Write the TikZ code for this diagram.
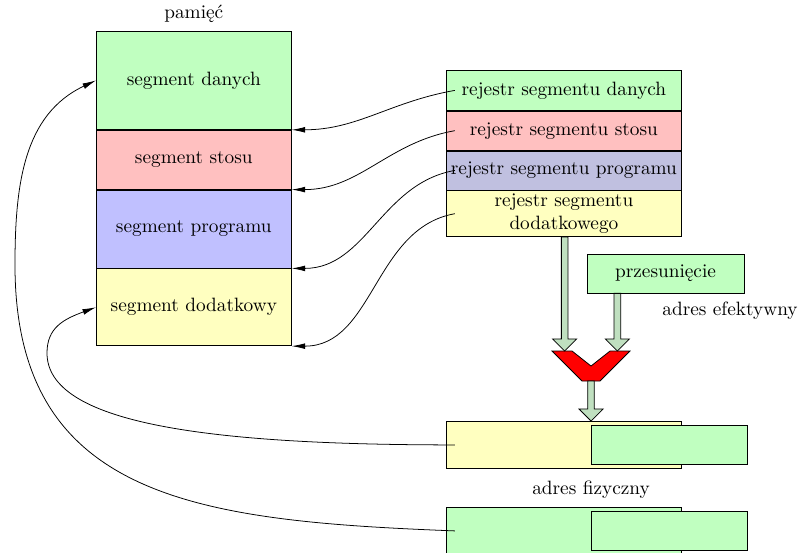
\documentclass[tikz,border=0pt]{standalone}
\usepackage{fontspec}
\usetikzlibrary{arrows.meta,positioning,calc}
\definecolor{zielony}{RGB}{192,255,192}
\definecolor{rozowy}{RGB}{255,192,192}
\definecolor{fiolet}{RGB}{192,192,255}
\definecolor{szaryfiolet}{RGB}{192,192,224}
\definecolor{zolty}{RGB}{255,255,192}
\definecolor{jasnazielen}{RGB}{192,224,192}
\tikzset{
  seg/.style={draw, minimum width=3.55cm, inner sep=0pt},
  rej/.style={draw, text width=4.14cm, align=center, inner xsep=2pt, inner ysep=1pt},
  pole/.style={draw, inner sep=0pt},
  wskaz/.style={-{Latex[length=7pt,width=3pt]}},
  gruba/.style={draw, fill=jasnazielen},
}
% gruba strzalka pionowa: od #1 do #2
\newcommand{\grubastrzalka}[2]{%
  \filldraw[gruba] let \p1=(#1), \p2=(#2) in
    (\x1-0.06cm,\y1) -- (\x1-0.06cm,\y2+0.22cm) -- (\x1-0.22cm,\y2+0.22cm) -- (\x1,\y2)
    -- (\x1+0.22cm,\y2+0.22cm) -- (\x1+0.06cm,\y2+0.22cm) -- (\x1+0.06cm,\y1) -- cycle;}

\begin{document}
\begin{tikzpicture}
    \useasboundingbox (0,0) rectangle (14.57,-10.07);
    % pamiec
    \node[seg, fill=zielony, minimum height=1.785cm, anchor=north west] (sd) at (1.748,-0.565) {segment danych};
    \node[seg, fill=rozowy, minimum height=1.075cm, below=0pt of sd] (ss) {segment stosu};
    \node[seg, fill=fiolet, minimum height=1.421cm, below=0pt of ss] (sp) {segment programu};
    \node[seg, fill=zolty, minimum height=1.402cm, below=0pt of sp] (sdod) {segment dodatkowy};
    \node[above=1pt of sd] (pamiec) {pamięć};

    % rejestry segmentowe
    \node[rej, fill=zielony, minimum height=0.729cm, anchor=north west] (rd) at (8.123,-1.275) {rejestr segmentu danych};
    \node[rej, fill=rozowy, minimum height=0.71cm, below=0pt of rd] (rs) {rejestr segmentu stosu};
    \node[rej, fill=szaryfiolet, minimum height=0.71cm, below=0pt of rs] (rp) {rejestr segmentu programu};
    \node[rej, fill=zolty, minimum height=0.838cm, below=0pt of rp] (rdod) {rejestr segmentu\\dodatkowego};

    \node[pole, fill=zielony, minimum width=2.86cm, minimum height=0.71cm] (prz) at (12.121,-4.981) {przesunięcie};
    \node (ae) at (13.295,-5.664) {adres efektywny};

    % sumator
    \coordinate (sum) at (10.764,-6.393);
    \filldraw[fill=red, shift={(sum)}] (-0.71,0) -- (-0.346,0) -- (0,-0.273) -- (0.346,0)
        -- (0.71,0) -- (0.164,-0.546) -- (-0.164,-0.546) -- cycle;
    \coordinate (sumL) at ($(sum)+(-0.48,0)$);
    \coordinate (sumR) at ($(sum)+(0.48,0)$);
    \coordinate (sumO) at ($(sum)+(0,-0.546)$);

    % adres fizyczny
    \node[pole, fill=zolty, minimum width=4.28cm, minimum height=0.856cm, anchor=north west] (fa) at (8.123,-7.668) {};
    \node[pole, fill=zielony, minimum width=2.841cm, minimum height=0.71cm, anchor=west] (fao) at (fa.west -| sumO) {};
    \node[anchor=north, yshift=-0.1cm] (af) at (fa.south -| sumO) {adres fizyczny};
    \node[pole, fill=zielony, minimum width=4.28cm, minimum height=0.856cm, anchor=north west] (fb) at (8.123,-9.234) {};
    \node[pole, fill=zielony, minimum width=2.841cm, minimum height=0.71cm, anchor=west] (fbo) at (fb.west -| sumO) {};

    \grubastrzalka{rdod.south -| sumL}{sumL}
    \grubastrzalka{prz.south -| sumR}{sumR}
    \grubastrzalka{sumO}{fa.north -| sumO}

    % wskazania na segmenty
    \draw[wskaz] ([xshift=0.16cm]rd.west) to[out=190,in=0] (sd.south east);
    \draw[wskaz] ([xshift=0.16cm]rs.west) to[out=190,in=0] (ss.south east);
    \draw[wskaz] ([xshift=0.16cm]rp.west) to[out=190,in=0] (sp.south east);
    \draw[wskaz] ([xshift=0.16cm]rdod.west) to[out=190,in=0] (sdod.south east);
    % powroty z adresu fizycznego
    \coordinate (zakretA) at (0.856,-6.429);
    \coordinate (zakretB) at (0.273,-4.826);
    \draw[wskaz] ([xshift=0.16cm]fa.west) .. controls +(-4.55,0) and +(0,-1.275) .. (zakretA)
        .. controls +(0,0.455) and +(-0.6,-0.22) .. (sdod.west);
    \draw[wskaz] ([xshift=0.16cm]fb.west) .. controls +(-4.64,0.18) and +(0,-4.28) .. (zakretB)
        .. controls +(0,1.457) and +(-1.32,-0.62) .. (sd.west);
\end{tikzpicture}
\end{document}
